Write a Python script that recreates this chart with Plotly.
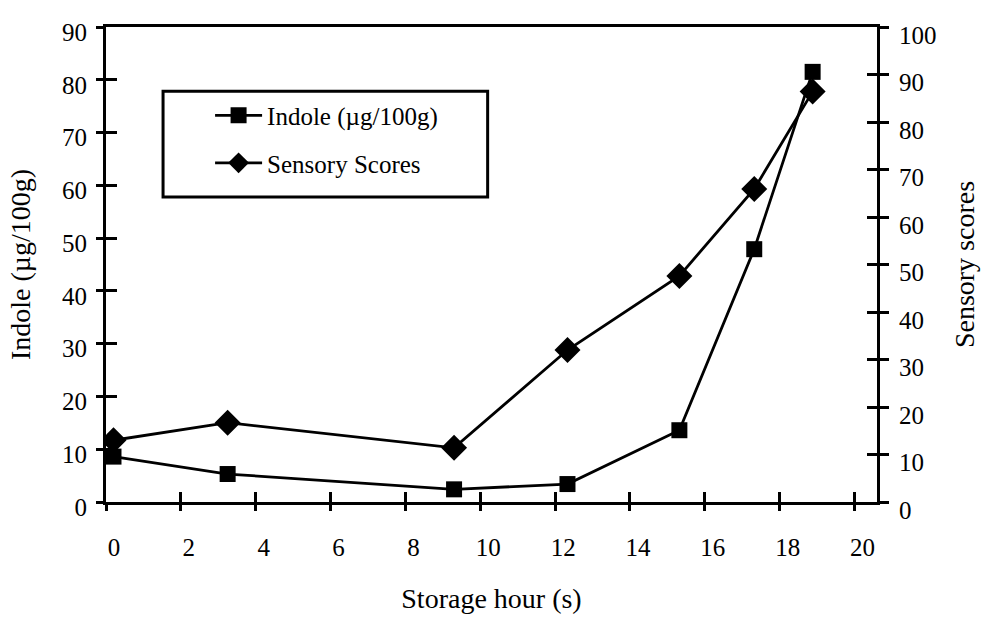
import plotly.graph_objects as go

# Data
hours = [0.2, 3.25, 9.3, 12.33, 15.32, 17.32, 18.88]
indole = [8.6, 5.3, 2.4, 3.4, 13.6, 47.9, 81.5]
sensory = [13.0, 16.7, 11.4, 32.0, 47.6, 65.9, 86.4]

x_ticks = list(range(0, 21, 2))
left_ticks = list(range(0, 91, 10))
right_ticks = list(range(0, 101, 10))

FONT = "Liberation Serif, Times New Roman, serif"
X_RANGE = [0, 20.6]
Y1_RANGE = [0, 90]
Y2_RANGE = [0, 100]

fig = go.Figure()

fig.add_trace(go.Scatter(
    x=hours, y=indole, name="Indole (µg/100g)", mode="lines+markers",
    line=dict(color="black", width=2.8),
    marker=dict(symbol="square", size=16, color="black"),
    legendgroup="a", xaxis="x", yaxis="y",
))
fig.add_trace(go.Scatter(
    x=hours, y=sensory, name="Sensory Scores", mode="lines+markers",
    line=dict(color="black", width=2.8),
    marker=dict(symbol="diamond", size=20, color="black"),
    legendgroup="b", xaxis="x", yaxis="y2",
))
# invisible helper traces so the inner-tick overlay axes are drawn
fig.add_trace(go.Scatter(x=[None], y=[None], xaxis="x2", yaxis="y3",
                         showlegend=False, hoverinfo="skip"))
fig.add_trace(go.Scatter(x=[None], y=[None], xaxis="x2", yaxis="y4",
                         showlegend=False, hoverinfo="skip"))

tickfont = dict(family=FONT, size=25, color="black")
titlefont = dict(family=FONT, size=28, color="black")

fig.update_layout(
    width=982, height=620,
    margin=dict(l=106, r=105, t=27, b=118),
    paper_bgcolor="white", plot_bgcolor="white",
    font=dict(family=FONT, color="black"),
    showlegend=True,
    legend=dict(
        x=0.135, y=0.862, xanchor="left", yanchor="top",
        bgcolor="rgba(0,0,0,0)", borderwidth=0,
        font=dict(family=FONT, size=25, color="black"),
        tracegroupgap=12, itemwidth=47,
    ),
    xaxis=dict(
        range=X_RANGE, tickvals=x_ticks, ticktext=[str(v) for v in x_ticks],
        ticks="outside", ticklen=6, tickwidth=2.5, tickcolor="black",
        showline=True, linewidth=3, linecolor="black", mirror=True,
        showgrid=False, zeroline=False, tickfont=tickfont,
        ticklabelstandoff=15, ticklabelshift=8, automargin=False,
        title=dict(text="Storage hour (s)", font=titlefont, standoff=29),
        anchor="y",
    ),
    yaxis=dict(
        range=Y1_RANGE, tickvals=left_ticks, ticktext=[str(v) for v in left_ticks],
        ticks="outside", ticklen=7, tickwidth=2.5, tickcolor="black",
        showline=True, linewidth=3, linecolor="black",
        showgrid=False, zeroline=False, tickfont=tickfont,
        ticklabelstandoff=4, ticklabelshift=5, automargin=False,
        title=dict(text="Indole (µg/100g)", font=titlefont, standoff=24),
        anchor="x",
    ),
    yaxis2=dict(
        range=Y2_RANGE, tickvals=right_ticks, ticktext=[str(v) for v in right_ticks],
        overlaying="y", side="right", anchor="x",
        ticks="outside", ticklen=9, tickwidth=2.5, tickcolor="black",
        showline=True, linewidth=3, linecolor="black",
        showgrid=False, zeroline=False, tickfont=tickfont,
        ticklabelstandoff=5, ticklabelshift=8, automargin=False,
        title=dict(text="Sensory scores", font=titlefont, standoff=19),
    ),
    xaxis2=dict(
        range=X_RANGE, tickvals=x_ticks, overlaying="x", anchor="y3", side="bottom",
        ticks="inside", ticklen=10, tickwidth=2.5, tickcolor="black", automargin=False,
        showticklabels=False, showline=False, showgrid=False, zeroline=False,
    ),
    yaxis3=dict(
        range=Y1_RANGE, tickvals=left_ticks[:-1], overlaying="y", anchor="x2", side="left",
        ticks="inside", ticklen=11, tickwidth=2.5, tickcolor="black", automargin=False,
        showticklabels=False, showline=False, showgrid=False, zeroline=False,
    ),
    yaxis4=dict(
        range=Y2_RANGE, tickvals=right_ticks[:-1], overlaying="y", anchor="x2", side="right",
        ticks="inside", ticklen=10, tickwidth=2.5, tickcolor="black", automargin=False,
        showticklabels=False, showline=False, showgrid=False, zeroline=False,
    ),
    shapes=[dict(
        type="rect", xref="paper", yref="paper",
        x0=0.074, x1=0.495, y0=0.642, y1=0.865,
        line=dict(color="black", width=3), fillcolor="rgba(0,0,0,0)",
    )],
)

fig.write_html(
    "out.html",
    config={"displayModeBar": False},
    post_script="document.body.style.margin='0';document.body.style.overflow='hidden';",
)
